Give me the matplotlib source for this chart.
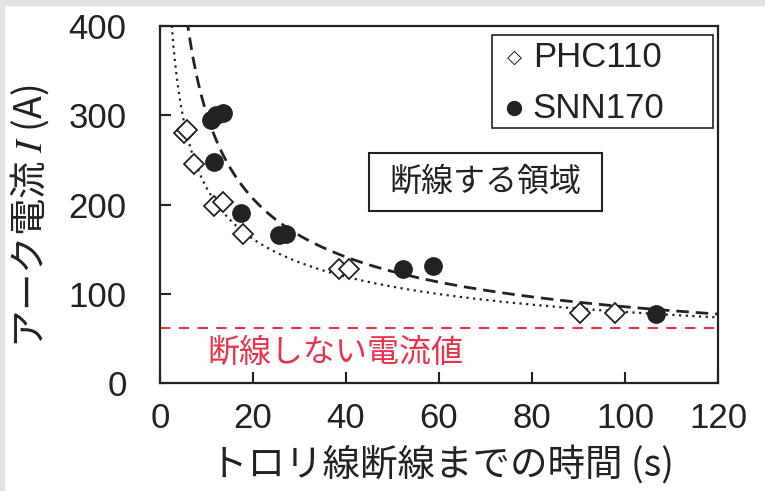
import numpy as np
from matplotlib import pyplot as plt
from matplotlib.patches import Rectangle

plt.rcParams['font.family'] = ['Noto Sans CJK JP', 'DejaVu Sans']
plt.rcParams['mathtext.fontset'] = 'stix'

# data
phc_t = [5.2, 5.8, 7.3, 11.6, 13.5, 17.8, 38.4, 40.6, 90.4, 97.9]
phc_i = [280, 284, 245, 198, 203, 167, 128, 128, 78, 78]
snn_t = [11.0, 12.0, 13.5, 11.6, 17.4, 25.5, 27.0, 52.2, 58.8, 106.7]
snn_i = [295, 300, 302, 248, 191, 166, 167, 128, 131, 77]
limit_i = 62
x_ticks = [0, 20, 40, 60, 80, 100, 120]
y_ticks = [0, 100, 200, 300, 400]

ink = '#222222'
red = '#e8334a'
latin = ['Liberation Sans', 'DejaVu Sans']

fig = plt.figure(figsize=(7.65, 4.91), dpi=100)
# gray frame strips at top and left
fig.patches.append(Rectangle((0, 1 - 5 / 491), 1, 5 / 491, transform=fig.transFigure,
                             color='#e2e3e5', zorder=0))
fig.patches.append(Rectangle((0, 0), 4 / 765, 1, transform=fig.transFigure,
                             color='#e2e3e5', zorder=0))

ax = fig.add_axes([160 / 765, 1 - 383 / 491, 558 / 765, 357 / 491])

# power trend lines fitted to each series
tt = np.linspace(1, 120, 600)
b1, a1 = np.polyfit(np.log(phc_t), np.log(phc_i), 1)
b2, a2 = np.polyfit(np.log(snn_t), np.log(snn_i), 1)
ax.plot(tt, np.exp(a1) * tt ** b1, color=ink, lw=1.6, ls=(0, (1, 2)), zorder=2)
ax.plot(tt, np.exp(a2) * tt ** b2, color=ink, lw=2, ls=(0, (4.5, 2.5)), zorder=2)

ax.axhline(limit_i, color=red, lw=1.5, ls=(0, (5, 4)), zorder=1)

ax.plot(phc_t, phc_i, 'D', ms=10, mfc='white', mec=ink, mew=1.3, zorder=3)
ax.plot(snn_t, snn_i, 'o', ms=12.5, color=ink, zorder=4)

ax.set_xlim(0, 120)
ax.set_ylim(0, 400)
ax.set_xticks(x_ticks)
ax.set_yticks(y_ticks)
ax.tick_params(direction='in', length=8, width=1.5, colors=ink)
ax.tick_params(axis='y', pad=24)
ax.tick_params(axis='x', pad=14)
for lab in ax.get_xticklabels() + ax.get_yticklabels():
    lab.set_family(latin)
    lab.set_fontsize(25)
for s in ax.spines.values():
    s.set_linewidth(1.6)
    s.set_color(ink)

ax.set_xlabel('トロリ線断線までの時間 (s)', fontsize=27, color=ink, va='center')
ax.xaxis.set_label_coords(0.506, -0.23)
ax.set_ylabel('アーク電流 $I$ (A)', fontsize=27, color=ink, va='center')
ax.yaxis.set_label_coords(-0.233, 0.468)

# legend box drawn by hand
ax.add_patch(Rectangle((0.595, 0.714), 0.396, 0.261, transform=ax.transAxes,
                       fill=False, lw=1.2, ec=ink, zorder=5))
ax.text(0.636, 0.913, '\u25C7', transform=ax.transAxes, fontsize=14, ha='center',
        va='center', color=ink, family=['DejaVu Sans'])
ax.plot([0.634], [0.770], 'o', ms=10, color=ink, transform=ax.transAxes,
        clip_on=False)
for ty, name in [(0.913, 'PHC110'), (0.770, 'SNN170')]:
    ax.text(0.668, ty, name, transform=ax.transAxes, fontsize=25, va='center',
            color=ink, family=latin)

# region label
ax.add_patch(Rectangle((0.3746, 0.4818), 0.4176, 0.1625, transform=ax.transAxes,
                       fc='white', ec=ink, lw=1.5, zorder=6))
ax.text(0.3746 + 0.4176 / 2, 0.4818 + 0.1625 / 2, '断線する領域', transform=ax.transAxes,
        fontsize=23, ha='center', va='center', color=ink, zorder=7)
ax.text(10.1, 34, '断線しない電流値', fontsize=23, ha='left', va='center', color=red)

fig.savefig('out.png', dpi=100)
